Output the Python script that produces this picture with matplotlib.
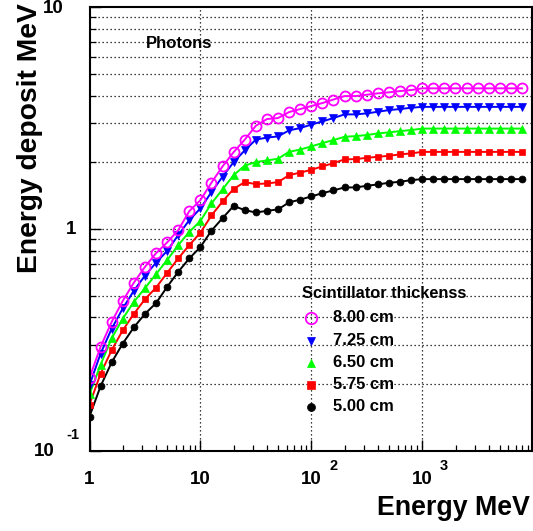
import matplotlib
matplotlib.use("Agg")
import matplotlib.pyplot as plt
from matplotlib.ticker import LogLocator, NullFormatter, FixedLocator

plt.rcParams["font.family"] = ["Liberation Sans", "DejaVu Sans"]
plt.rcParams["font.weight"] = "bold"

# Photon energy (MeV)
energy = [1, 1.259, 1.585, 1.995, 2.512, 3.162, 3.981, 5.012, 6.310, 7.943,
          10, 12.59, 15.85, 19.95, 25.12, 31.62, 39.81, 50.12, 63.10, 79.43,
          100, 125.9, 158.5, 199.5, 251.2, 316.2, 398.1, 501.2, 631.0, 794.3,
          1000, 1259, 1585, 1995, 2512, 3162, 3981, 5012, 6310, 7943]

# Energy deposit (MeV) for each scintillator thickness
dep_800 = [0.214, 0.295, 0.382, 0.475, 0.574, 0.676, 0.779, 0.871, 0.990, 1.206,
           1.351, 1.621, 1.918, 2.225, 2.533, 2.924, 3.135, 3.168, 3.371, 3.478,
           3.588, 3.702, 3.839, 3.980, 3.980, 4.035, 4.094, 4.137, 4.193, 4.236,
           4.312, 4.312, 4.312, 4.312, 4.312, 4.312, 4.312, 4.312, 4.312, 4.312]
dep_725 = [0.198, 0.275, 0.356, 0.439, 0.528, 0.617, 0.706, 0.798, 0.940, 1.098,
           1.240, 1.469, 1.725, 2.005, 2.265, 2.533, 2.586, 2.619, 2.788, 2.855,
           2.960, 3.060, 3.168, 3.291, 3.291, 3.325, 3.381, 3.441, 3.478, 3.525,
           3.558, 3.558, 3.558, 3.558, 3.558, 3.558, 3.558, 3.558, 3.558, 3.558]
dep_650 = [0.180, 0.245, 0.322, 0.395, 0.470, 0.542, 0.627, 0.725, 0.847, 0.972,
           1.089, 1.306, 1.512, 1.752, 1.934, 2.005, 2.041, 2.076, 2.232, 2.284,
           2.361, 2.443, 2.520, 2.608, 2.627, 2.655, 2.702, 2.730, 2.767, 2.796,
           2.840, 2.840, 2.840, 2.840, 2.840, 2.840, 2.840, 2.840, 2.840, 2.840]
dep_575 = [0.162, 0.223, 0.285, 0.350, 0.415, 0.483, 0.545, 0.635, 0.738, 0.847,
           0.964, 1.153, 1.333, 1.520, 1.629, 1.596, 1.607, 1.629, 1.752, 1.798,
           1.851, 1.918, 1.984, 2.063, 2.069, 2.097, 2.119, 2.141, 2.173, 2.195,
           2.230, 2.230, 2.230, 2.230, 2.230, 2.230, 2.230, 2.230, 2.230, 2.230]
dep_500 = [0.143, 0.196, 0.251, 0.305, 0.361, 0.415, 0.464, 0.549, 0.642, 0.738,
           0.830, 0.985, 1.121, 1.273, 1.218, 1.189, 1.209, 1.228, 1.320, 1.359,
           1.404, 1.453, 1.495, 1.542, 1.542, 1.568, 1.591, 1.618, 1.635, 1.663,
           1.681, 1.681, 1.681, 1.681, 1.681, 1.681, 1.681, 1.681, 1.681, 1.681]

labels = ["8.00 cm", "7.25 cm", "6.50 cm", "5.75 cm", "5.00 cm"]
series = [dep_800, dep_725, dep_650, dep_575, dep_500]
styles = [
    dict(color="#ff00ff", marker="o", mfc="none", mec="#ff00ff", ms=7.2, mew=1.3),
    dict(color="#0000ff", marker="v", mfc="#0000ff", mec="#0000ff", ms=5.5, mew=0.5),
    dict(color="#00ff00", marker="^", mfc="#00ff00", mec="#00ff00", ms=5.5, mew=0.5),
    dict(color="#ff0000", marker="s", mfc="#ff0000", mec="#ff0000", ms=4.8, mew=0.5),
    dict(color="#000000", marker="o", mfc="#000000", mec="#000000", ms=5.0, mew=0.5),
]

W, H = 533, 531
fig = plt.figure(figsize=(W / 100, H / 100), dpi=100)
x0, x1, y0, y1 = 89.5, 531.5, 7.3, 451.0
ax = fig.add_axes([x0 / W, 1 - y1 / H, (x1 - x0) / W, (y1 - y0) / H])

ax.set_xscale("log")
ax.set_yscale("log")
ax.set_xlim(1, 9680)
ax.set_ylim(0.1, 10)

for vals, st in zip(series[::-1], styles[::-1]):
    ax.plot(energy, vals, lw=1.4, **st)

# grid: y at every decade subdivision, x at decades
dots = (0, (1, 2.2))
for yv in [0.2, 0.3, 0.4, 0.5, 0.6, 0.7, 0.8, 0.9, 1,
           2, 3, 4, 5, 6, 7, 8, 9]:
    ax.axhline(yv, color="black", lw=0.9, ls=dots, zorder=0.5)
for xv in [10, 100, 1000]:
    ax.axvline(xv, color="black", lw=0.9, ls=dots, zorder=0.5)

ax.xaxis.set_major_locator(FixedLocator([1, 10, 100, 1000]))
ax.xaxis.set_minor_locator(LogLocator(base=10, subs=range(2, 10), numticks=20))
ax.yaxis.set_major_locator(FixedLocator([0.1, 1, 10]))
ax.yaxis.set_minor_locator(LogLocator(base=10, subs=range(2, 10), numticks=20))
ax.xaxis.set_major_formatter(NullFormatter())
ax.xaxis.set_minor_formatter(NullFormatter())
ax.yaxis.set_major_formatter(NullFormatter())
ax.yaxis.set_minor_formatter(NullFormatter())
ax.tick_params(which="both", direction="in", top=False, right=False, color="black")
ax.tick_params(which="major", length=8, width=1.0)
ax.tick_params(which="minor", length=4.6, width=0.9)
for sp in ax.spines.values():
    sp.set_linewidth(1.5)

tick_fs = 13.5
sup_fs = 10.5
# x tick labels
xt = ax.get_xaxis_transform()
for xv, base, sup in [(1, "1", None), (10, "10", None), (100, "10", "2"), (1000, "10", "3")]:
    ax.annotate(base, xy=(xv, 0), xycoords=xt, xytext=(0, -29), textcoords="offset pixels",
                ha="center", va="center", fontsize=tick_fs, fontweight="bold")
    if sup:
        ax.annotate(sup, xy=(xv, 0), xycoords=xt, xytext=(22, -15), textcoords="offset pixels",
                    ha="center", va="center", fontsize=sup_fs, fontweight="bold")
# y tick labels
yt = ax.get_yaxis_transform()
ax.annotate("10", xy=(0, 10), xycoords=yt, xytext=(-26, -1), textcoords="offset pixels",
            ha="right", va="center", fontsize=tick_fs, fontweight="bold")
ax.annotate("1", xy=(0, 1), xycoords=yt, xytext=(-13, 0), textcoords="offset pixels",
            ha="right", va="center", fontsize=tick_fs, fontweight="bold")
ax.annotate("10", xy=(0, 0.1), xycoords=yt, xytext=(-35, -1), textcoords="offset pixels",
            ha="right", va="center", fontsize=tick_fs, fontweight="bold")
ax.annotate("-1", xy=(0, 0.1), xycoords=yt, xytext=(-10, 16), textcoords="offset pixels",
            ha="right", va="center", fontsize=sup_fs, fontweight="bold")

# axis titles
fig.text(530 / W, 1 - 508 / H, "Energy MeV", ha="right", va="center",
         fontsize=19.3, fontweight="bold")
fig.text(30 / W, 1 - 138.5 / H, "Energy deposit MeV", ha="center", va="center",
         rotation=90, fontsize=20.3, fontweight="bold")

# annotation
fig.text(146 / W, 1 - 48 / H, "Photons", ha="left", va="baseline",
         fontsize=12, fontweight="bold")

# legend
fig.text(302 / W, 1 - 293 / H, "Scintillator thickenss", ha="left", va="center",
         fontsize=11.8, fontweight="bold")
leg_y = [318, 340.5, 362.5, 384.5, 406.5]
for ypix, lab, st in zip(leg_y, labels, styles):
    fx, fy = 311 / W, 1 - ypix / H
    fig.lines.append(plt.Line2D([fx], [fy], transform=fig.transFigure, ls="none",
                                marker=st["marker"], mfc=st["mfc"], mec=st["mec"],
                                ms=st["ms"] * 1.15, mew=st["mew"]))
    fig.text(333 / W, fy, lab, ha="left", va="center", fontsize=12, fontweight="bold")

fig.savefig("out.png", dpi=100)
